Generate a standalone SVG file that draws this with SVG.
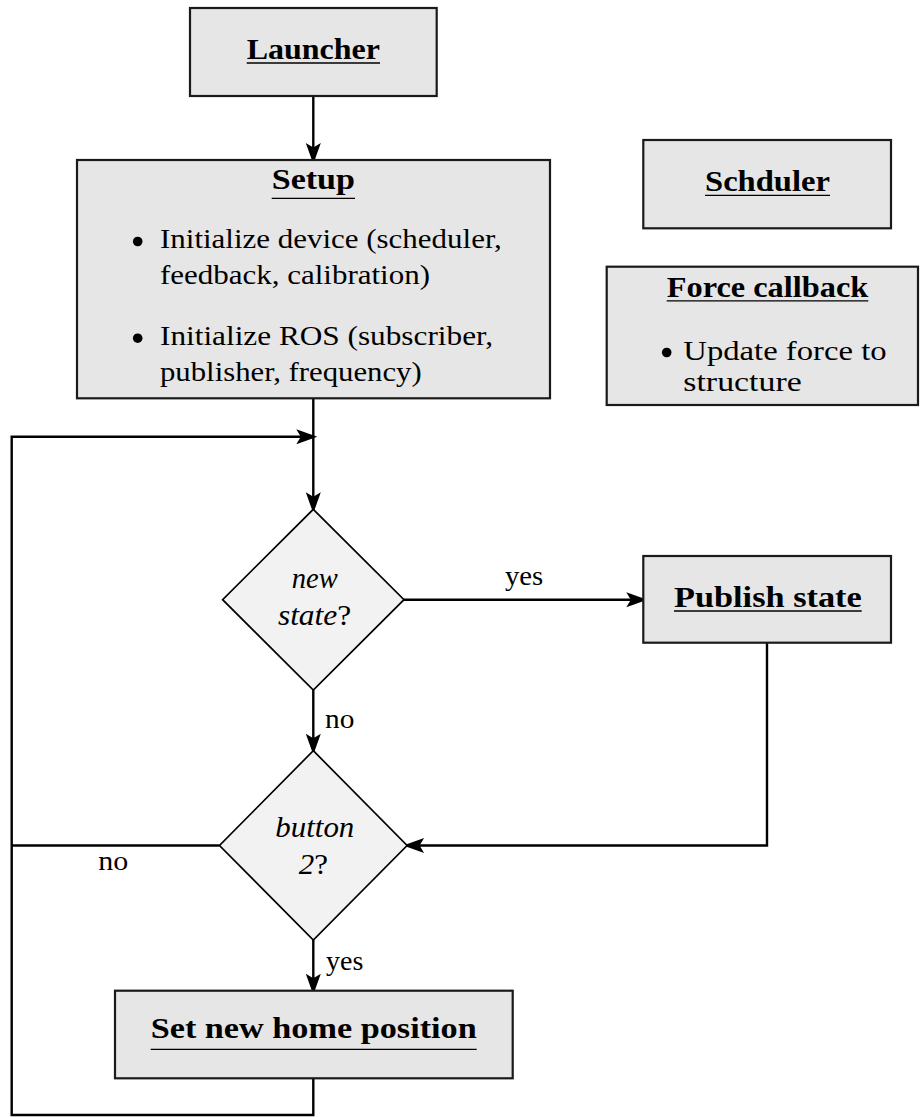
<svg xmlns="http://www.w3.org/2000/svg" width="920" height="1117" viewBox="0 0 920 1117" font-family="Liberation Serif, Times New Roman, DejaVu Serif, serif">
<style>
.box{fill:#e6e6e6;stroke:#1a1a1a;stroke-width:2.2}
.dia{fill:#f2f2f2;stroke:#000;stroke-width:1.7}
.hd{font-weight:bold;font-size:29px;fill:#000}
.tx{font-size:28px;fill:#000}
.it{font-style:italic;font-size:30px;fill:#000}
.up{font-style:normal}
.ul{stroke:#000;stroke-width:1.3}
.bul{fill:#000}
.con{fill:none;stroke:#000;stroke-width:2.4}
</style>
<defs>
<marker id="ah" markerUnits="userSpaceOnUse" markerWidth="30" markerHeight="30" viewBox="-10 -10 20 20" refX="0" refY="0" orient="auto" overflow="visible">
<path d="M-6,-5 L8,0 L-6,5 L-3,0 Z" fill="#000"/>
</marker>
</defs>

<g id="connectors">
<path class="con" d="M313.3,96 V152" marker-end="url(#ah)"/>
<path class="con" d="M313.3,398.3 V501.3" marker-end="url(#ah)"/>
<path class="con" d="M313.3,1078.3 V1115 H11.7 V436.7 H305.3" marker-end="url(#ah)"/>
<path class="con" d="M404,599.7 H635.3" marker-end="url(#ah)"/>
<path class="con" d="M313.3,690 V742.7" marker-end="url(#ah)"/>
<path class="con" d="M767,642.7 V845.5 H415.1" marker-end="url(#ah)"/>
<path class="con" d="M219.5,845.5 H11.7"/>
<path class="con" d="M313.3,940 V982.7" marker-end="url(#ah)"/>
<text class="tx" font-family="Liberation Serif, serif" x="505" y="585" textLength="38.3" lengthAdjust="spacingAndGlyphs">yes</text>
<text class="tx" font-family="Liberation Serif, serif" x="325" y="728.3" textLength="29.4" lengthAdjust="spacingAndGlyphs">no</text>
<text class="tx" font-family="Liberation Serif, serif" x="98.3" y="870" textLength="30" lengthAdjust="spacingAndGlyphs">no</text>
<text class="tx" font-family="Liberation Serif, serif" x="326" y="970" textLength="37.3" lengthAdjust="spacingAndGlyphs">yes</text>
</g>

<g id="launcher">
<rect class="box" x="190" y="8" width="246.7" height="88"/>
<text class="hd" font-family="Liberation Serif, serif" x="246.7" y="59.3" textLength="133.3" lengthAdjust="spacingAndGlyphs">Launcher</text>
<line class="ul" x1="246.7" y1="63" x2="380" y2="63"/>
</g>

<g id="setup">
<rect class="box" x="77" y="160" width="473" height="238.3"/>
<text class="hd" font-family="Liberation Serif, serif" x="271.7" y="188.5" textLength="83.3" lengthAdjust="spacingAndGlyphs">Setup</text>
<line class="ul" x1="271.7" y1="198.3" x2="355" y2="198.3"/>
<circle class="bul" cx="137.7" cy="241.5" r="4.8"/>
<text class="tx" font-family="Liberation Serif, serif" x="160" y="248.3" textLength="341.7" lengthAdjust="spacingAndGlyphs">Initialize device (scheduler,</text>
<text class="tx" font-family="Liberation Serif, serif" x="160" y="284" textLength="270" lengthAdjust="spacingAndGlyphs">feedback, calibration)</text>
<circle class="bul" cx="137.7" cy="338.2" r="4.8"/>
<text class="tx" font-family="Liberation Serif, serif" x="160" y="345" textLength="333" lengthAdjust="spacingAndGlyphs">Initialize ROS (subscriber,</text>
<text class="tx" font-family="Liberation Serif, serif" x="160" y="380.5" textLength="261.7" lengthAdjust="spacingAndGlyphs">publisher, frequency)</text>
</g>

<g id="scheduler">
<rect class="box" x="643.3" y="140" width="247.7" height="88.3"/>
<text class="hd" font-family="Liberation Serif, serif" x="705" y="191.3" textLength="125" lengthAdjust="spacingAndGlyphs">Schduler</text>
<line class="ul" x1="705" y1="195.3" x2="830" y2="195.3"/>
</g>

<g id="force-callback">
<rect class="box" x="606.7" y="266.7" width="311.3" height="138.3"/>
<text class="hd" font-family="Liberation Serif, serif" x="666.7" y="296.7" textLength="201.6" lengthAdjust="spacingAndGlyphs">Force callback</text>
<line class="ul" x1="666.7" y1="300.8" x2="868.3" y2="300.8"/>
<circle class="bul" cx="666.7" cy="352.5" r="4.8"/>
<text class="tx" font-family="Liberation Serif, serif" x="683.3" y="360" textLength="203.3" lengthAdjust="spacingAndGlyphs">Update force to</text>
<text class="tx" font-family="Liberation Serif, serif" x="683.3" y="391" textLength="118.4" lengthAdjust="spacingAndGlyphs">structure</text>
</g>

<g id="new-state">
<polygon class="dia" points="313.3,509.3 404,599.7 313.3,690 222.6,599.7"/>
<text class="it" font-family="Liberation Serif, serif" x="291.7" y="588.3" textLength="46" lengthAdjust="spacingAndGlyphs">new</text>
<text class="it" font-family="Liberation Serif, serif" x="277.9" y="625" textLength="73.4" lengthAdjust="spacingAndGlyphs">state<tspan class="up">?</tspan></text>
</g>

<g id="publish-state">
<rect class="box" x="643.3" y="556" width="247.7" height="86.7"/>
<text class="hd" font-family="Liberation Serif, serif" x="674" y="606.7" textLength="187.7" lengthAdjust="spacingAndGlyphs">Publish state</text>
<line class="ul" x1="674" y1="611" x2="861.7" y2="611"/>
</g>

<g id="button2">
<polygon class="dia" points="313.3,750.7 407.1,845.5 313.3,940 219.5,845.5"/>
<text class="it" font-family="Liberation Serif, serif" x="275.3" y="836.7" textLength="79" lengthAdjust="spacingAndGlyphs">button</text>
<text class="it" font-family="Liberation Serif, serif" x="298.8" y="874.3" textLength="29.2" lengthAdjust="spacingAndGlyphs">2<tspan class="up">?</tspan></text>
</g>

<g id="set-home">
<rect class="box" x="115" y="990.7" width="397.7" height="87.6"/>
<text class="hd" font-family="Liberation Serif, serif" x="150.7" y="1038.3" textLength="326" lengthAdjust="spacingAndGlyphs">Set new home position</text>
<line class="ul" x1="150.7" y1="1049.3" x2="476.7" y2="1049.3"/>
</g>
</svg>
